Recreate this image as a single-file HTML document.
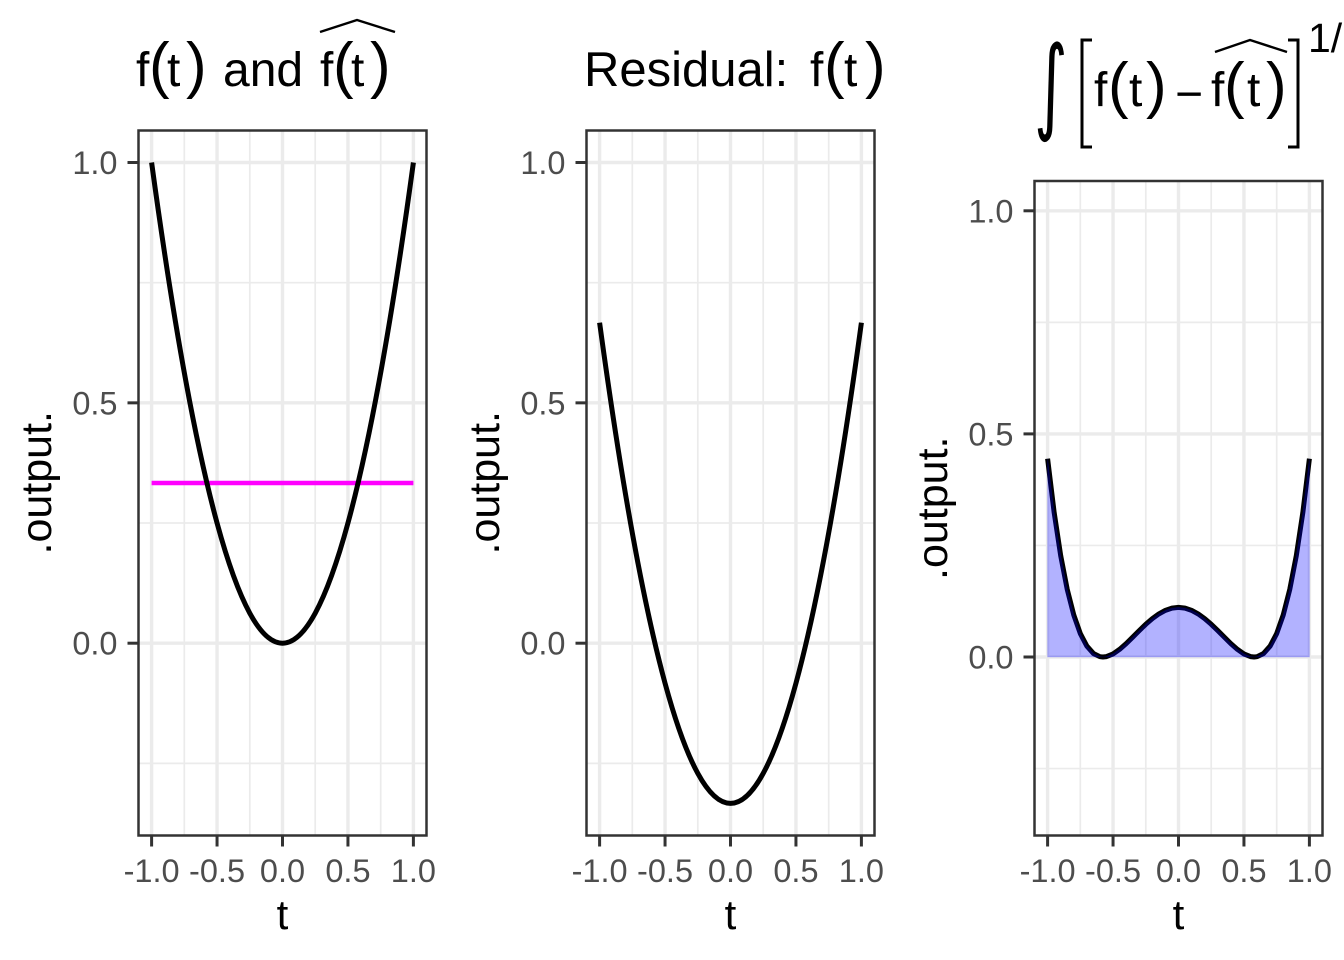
<!DOCTYPE html>
<html><head><meta charset="utf-8"><style>
html,body{margin:0;padding:0;background:#fff;}
svg{display:block;font-family:"Liberation Sans",Arial,sans-serif;}
</style></head><body>
<svg width="1344" height="960" viewBox="0 0 1344 960" xmlns="http://www.w3.org/2000/svg">
<rect width="1344" height="960" fill="#fff"/>

<defs>
<g id="grid12">
  <g stroke="#EBEBEB" stroke-width="1.7">
    <line x1="138.5" x2="426.5" y1="282.7" y2="282.7"/>
    <line x1="138.5" x2="426.5" y1="523.0" y2="523.0"/>
    <line x1="138.5" x2="426.5" y1="763.4" y2="763.4"/>
    <line x1="184.3" x2="184.3" y1="130.5" y2="835.5"/>
    <line x1="249.8" x2="249.8" y1="130.5" y2="835.5"/>
    <line x1="315.2" x2="315.2" y1="130.5" y2="835.5"/>
    <line x1="380.7" x2="380.7" y1="130.5" y2="835.5"/>
  </g>
  <g stroke="#EBEBEB" stroke-width="3.4">
    <line x1="138.5" x2="426.5" y1="162.5" y2="162.5"/>
    <line x1="138.5" x2="426.5" y1="402.85" y2="402.85"/>
    <line x1="138.5" x2="426.5" y1="643.2" y2="643.2"/>
    <line x1="151.6" x2="151.6" y1="130.5" y2="835.5"/>
    <line x1="217.05" x2="217.05" y1="130.5" y2="835.5"/>
    <line x1="282.5" x2="282.5" y1="130.5" y2="835.5"/>
    <line x1="347.95" x2="347.95" y1="130.5" y2="835.5"/>
    <line x1="413.4" x2="413.4" y1="130.5" y2="835.5"/>
  </g>
</g>
<g id="axes12">
  <rect x="138.5" y="130.5" width="288" height="705" fill="none" stroke="#333333" stroke-width="2.5"/>
  <g stroke="#333333" stroke-width="3">
    <line x1="127.5" x2="138.5" y1="162.5" y2="162.5"/>
    <line x1="127.5" x2="138.5" y1="402.85" y2="402.85"/>
    <line x1="127.5" x2="138.5" y1="643.2" y2="643.2"/>
    <line x1="151.6" x2="151.6" y1="835.5" y2="846.5"/>
    <line x1="217.05" x2="217.05" y1="835.5" y2="846.5"/>
    <line x1="282.5" x2="282.5" y1="835.5" y2="846.5"/>
    <line x1="347.95" x2="347.95" y1="835.5" y2="846.5"/>
    <line x1="413.4" x2="413.4" y1="835.5" y2="846.5"/>
  </g>
  <g fill="#4D4D4D" font-size="32.5" text-anchor="end">
    <text x="117.5" y="174">1.0</text>
    <text x="117.5" y="414.3">0.5</text>
    <text x="117.5" y="654.7">0.0</text>
  </g>
  <g fill="#4D4D4D" font-size="32.5" text-anchor="middle">
    <text x="151.6" y="882">-1.0</text>
    <text x="217.05" y="882">-0.5</text>
    <text x="282.5" y="882">0.0</text>
    <text x="347.95" y="882">0.5</text>
    <text x="413.4" y="882">1.0</text>
  </g>
  <text x="282.5" y="929" font-size="42" text-anchor="middle" fill="#000">t</text>
  <text transform="translate(51,482.75) rotate(-90)" font-size="43" text-anchor="middle" fill="#000">.output.</text>
</g>
</defs>

<!-- Panel 1 -->
<use href="#grid12"/>
<line x1="151.6" x2="413.4" y1="483.0" y2="483.0" stroke="#FF00FF" stroke-width="4.6"/>
<path d="M151.6,162.5 Q282.5,1123.9 413.4,162.5" fill="none" stroke="#000" stroke-width="5"/>
<use href="#axes12"/>

<!-- Panel 2 -->
<g transform="translate(448,0)">
  <use href="#grid12"/>
  <path d="M151.6,322.7 Q282.5,1284.1 413.4,322.7" fill="none" stroke="#000" stroke-width="5"/>
  <use href="#axes12"/>
</g>

<!-- Panel 3 -->
<g stroke="#EBEBEB" stroke-width="1.7">
  <line x1="1034.5" x2="1322.5" y1="322.35" y2="322.35"/>
  <line x1="1034.5" x2="1322.5" y1="545.45" y2="545.45"/>
  <line x1="1034.5" x2="1322.5" y1="768.55" y2="768.55"/>
  <line x1="1080.3" x2="1080.3" y1="181" y2="835.5"/>
  <line x1="1145.8" x2="1145.8" y1="181" y2="835.5"/>
  <line x1="1211.2" x2="1211.2" y1="181" y2="835.5"/>
  <line x1="1276.7" x2="1276.7" y1="181" y2="835.5"/>
</g>
<g stroke="#EBEBEB" stroke-width="3.4">
  <line x1="1034.5" x2="1322.5" y1="210.8" y2="210.8"/>
  <line x1="1034.5" x2="1322.5" y1="433.9" y2="433.9"/>
  <line x1="1034.5" x2="1322.5" y1="657.0" y2="657.0"/>
  <line x1="1047.6" x2="1047.6" y1="181" y2="835.5"/>
  <line x1="1113.05" x2="1113.05" y1="181" y2="835.5"/>
  <line x1="1178.5" x2="1178.5" y1="181" y2="835.5"/>
  <line x1="1243.95" x2="1243.95" y1="181" y2="835.5"/>
  <line x1="1309.4" x2="1309.4" y1="181" y2="835.5"/>
</g>
<polyline fill="none" stroke="#000" stroke-width="5" stroke-linejoin="round" points="1047.6,458.7 1054.14,512.4 1060.69,555.6 1067.23,589.4 1073.78,615.0 1080.32,633.6 1086.87,646.05 1093.41,653.45 1099.96,656.68 1102.93,657 1106.5,656.58 1113.05,653.9 1119.6,649.36 1126.14,643.6 1132.68,637.17 1139.23,630.58 1145.77,624.27 1152.32,618.61 1158.86,613.89 1165.41,610.35 1171.95,608.16 1178.5,607.42 1185.05,608.16 1191.59,610.35 1198.14,613.89 1204.68,618.61 1211.23,624.27 1217.77,630.58 1224.32,637.17 1230.86,643.6 1237.4,649.36 1243.95,653.9 1250.5,656.58 1254.07,657 1257.04,656.68 1263.59,653.45 1270.13,646.05 1276.68,633.6 1283.22,615.0 1289.77,589.4 1296.31,555.6 1302.86,512.4 1309.4,458.7"/>
<polygon fill="#0000FF" fill-opacity="0.3" stroke="#0000FF" stroke-opacity="0.12" stroke-width="1" points="1047.6,657 1047.6,458.7 1054.14,512.4 1060.69,555.6 1067.23,589.4 1073.78,615.0 1080.32,633.6 1086.87,646.05 1093.41,653.45 1099.96,656.68 1102.93,657 1106.5,656.58 1113.05,653.9 1119.6,649.36 1126.14,643.6 1132.68,637.17 1139.23,630.58 1145.77,624.27 1152.32,618.61 1158.86,613.89 1165.41,610.35 1171.95,608.16 1178.5,607.42 1185.05,608.16 1191.59,610.35 1198.14,613.89 1204.68,618.61 1211.23,624.27 1217.77,630.58 1224.32,637.17 1230.86,643.6 1237.4,649.36 1243.95,653.9 1250.5,656.58 1254.07,657 1257.04,656.68 1263.59,653.45 1270.13,646.05 1276.68,633.6 1283.22,615.0 1289.77,589.4 1296.31,555.6 1302.86,512.4 1309.4,458.7 1309.4,657"/>
<rect x="1034.5" y="181" width="288" height="654.5" fill="none" stroke="#333333" stroke-width="2.5"/>
<g stroke="#333333" stroke-width="3">
  <line x1="1023.5" x2="1034.5" y1="210.8" y2="210.8"/>
  <line x1="1023.5" x2="1034.5" y1="433.9" y2="433.9"/>
  <line x1="1023.5" x2="1034.5" y1="657.0" y2="657.0"/>
  <line x1="1047.6" x2="1047.6" y1="835.5" y2="846.5"/>
  <line x1="1113.05" x2="1113.05" y1="835.5" y2="846.5"/>
  <line x1="1178.5" x2="1178.5" y1="835.5" y2="846.5"/>
  <line x1="1243.95" x2="1243.95" y1="835.5" y2="846.5"/>
  <line x1="1309.4" x2="1309.4" y1="835.5" y2="846.5"/>
</g>
<g fill="#4D4D4D" font-size="32.5" text-anchor="end">
  <text x="1013.5" y="222.3">1.0</text>
  <text x="1013.5" y="445.4">0.5</text>
  <text x="1013.5" y="668.5">0.0</text>
</g>
<g fill="#4D4D4D" font-size="32.5" text-anchor="middle">
  <text x="1047.6" y="882">-1.0</text>
  <text x="1113.05" y="882">-0.5</text>
  <text x="1178.5" y="882">0.0</text>
  <text x="1243.95" y="882">0.5</text>
  <text x="1309.4" y="882">1.0</text>
</g>
<text x="1178.5" y="929" font-size="42" text-anchor="middle" fill="#000">t</text>
<text transform="translate(947,508.25) rotate(-90)" font-size="43" text-anchor="middle" fill="#000">.output.</text>

<!-- ===== Titles ===== -->
<g fill="#000">
  <text x="136" y="86" font-size="48">f</text>
  <text x="149" y="86" font-size="62">(</text>
  <text x="167" y="86" font-size="48">t</text>
  <text x="186" y="86" font-size="62">)</text>
  <text x="223" y="86" font-size="48">and</text>
  <text x="320" y="86" font-size="48">f</text>
  <text x="333" y="86" font-size="62">(</text>
  <text x="351" y="86" font-size="48">t</text>
  <text x="370" y="86" font-size="62">)</text>
</g>
<polyline points="320,32 357,20 395,32" fill="none" stroke="#000" stroke-width="2.4"/>

<g fill="#000">
  <text x="584" y="86" font-size="49">Residual:</text>
  <text x="810" y="86" font-size="48">f</text>
  <text x="824" y="86" font-size="62">(</text>
  <text x="844" y="86" font-size="48">t</text>
  <text x="865" y="86" font-size="62">)</text>
</g>

<g fill="#000">
  <text transform="translate(1034,120) scale(0.62,1)" font-family="DejaVu Sans, sans-serif" font-size="104">∫</text>
  <text x="1094" y="106" font-size="48">f</text>
  <text x="1108" y="106" font-size="62">(</text>
  <text x="1129" y="106" font-size="48">t</text>
  <text x="1146" y="106" font-size="62">)</text>
  <text x="1175" y="110" font-size="48">−</text>
  <text x="1211" y="106" font-size="48">f</text>
  <text x="1224" y="106" font-size="62">(</text>
  <text x="1247" y="106" font-size="48">t</text>
  <text x="1266" y="106" font-size="62">)</text>
  <text x="1308" y="52" font-size="41">1/</text>
</g>
<polyline points="1092,40 1082,40 1082,147 1092,147" fill="none" stroke="#000" stroke-width="3"/>
<polyline points="1288,40 1298,40 1298,147 1288,147" fill="none" stroke="#000" stroke-width="3"/>
<polyline points="1215,52 1250,40 1287,52" fill="none" stroke="#000" stroke-width="2.4"/>
</svg>
</body></html>
